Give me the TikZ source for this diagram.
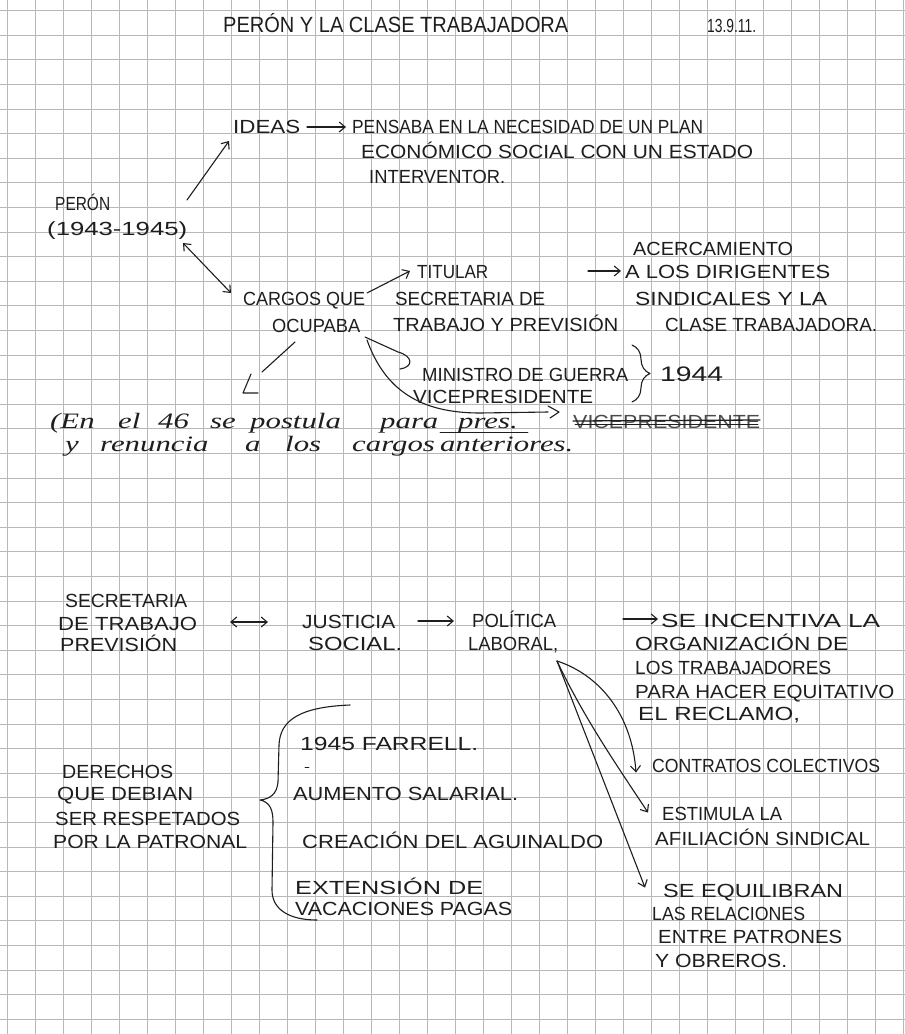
\documentclass[tikz,border=0pt]{standalone}
\usepackage{fontspec}
\setmainfont{Liberation Sans}
\newfontfamily\cursivefont{Liberation Serif}
\usetikzlibrary{arrows.meta,decorations.pathreplacing,calc}
\definecolor{ink}{HTML}{1E1E1E}
\definecolor{gridc}{HTML}{B8B8B8}
\newlength\hwlen
\newcommand\hw[2]{\settowidth\hwlen{#2}\scalebox{\fpeval{(#1)/\hwlen}}[1]{#2}}
\newcommand\cw[1]{\scalebox{1.4}[1]{#1}}
\newcommand\hwfont{\fontsize{19}{21}\selectfont}
\newcommand\curfont{\cursivefont\itshape\fontsize{22}{24}\selectfont}
\tikzset{
  gridline/.style={draw=gridc, line width=0.5pt},
  hw/.style={inner sep=0pt, anchor=base west, font=\hwfont, text=ink},
  cur/.style={inner sep=0pt, anchor=base west, font=\curfont, text=ink},
  pen/.style={draw=ink, line width=1.1pt, line cap=round, line join=round},
  hwarrow/.style={pen, -{Straight Barb[length=6pt,width=10pt]}},
  hwdarrow/.style={pen, {Straight Barb[length=6pt,width=10pt]}-{Straight Barb[length=6pt,width=10pt]}},
}
\begin{document}
\begin{tikzpicture}[x=1pt,y=-1pt]
\path[use as bounding box, fill=white] (0,0) rectangle (905,1034);
% grid paper
\foreach \k in {0,...,32} \draw[gridline] ({7+28*\k},0) -- ({7+28*\k},1034);
\foreach \k in {0,...,41} \draw[gridline] (0,{10.4+24.6*\k}) -- (905,{10.4+24.6*\k});

% title
\node[hw, font=\fontsize{22}{24}\selectfont] (title) at (223,32) {\hw{345}{PERÓN Y LA CLASE TRABAJADORA}};
\node[hw] (date) at (707,32) {\hw{49}{13.9.11.}};

% top block
\node[hw] (ideas) at (233,133) {\hw{67}{IDEAS}};
\node[hw] (ideas1) at (352,133) {\hw{351}{PENSABA EN LA NECESIDAD DE UN PLAN}};
\node[hw] (ideas2) at (361,158) {\hw{392}{ECONÓMICO SOCIAL CON UN ESTADO}};
\node[hw] (ideas3) at (369,183) {\hw{136}{INTERVENTOR.}};
\coordinate (ia) at (307,127);
\draw[hwarrow] (ia) -- ([xshift=-6pt]ideas1.west |- ia);

\node[hw] (peron) at (55,210) {\hw{55}{PERÓN}};
\node[hw] (years) at (47,235) {\hw{140}{(1943-1945)}};

\coordinate (pa) at (187,200);
\coordinate (pb) at (229,141);
\draw[hwarrow] (pa) -- (pb);

\node[hw] (cargos) at (243,305) {\hw{122}{CARGOS QUE}};
\node[hw] (ocupaba) at (272,332) {\hw{88}{OCUPABA}};
\coordinate (pc) at (183,243);
\coordinate (pd) at (231,293);
\draw[hwdarrow] (pc) -- (pd);

\node[hw] (titular) at (417,278) {\hw{71}{TITULAR}};
\node[hw] (sec1) at (395,305) {\hw{150}{SECRETARIA DE}};
\node[hw] (sec2) at (393,331) {\hw{225}{TRABAJO Y PREVISIÓN}};
\coordinate (ta) at (367,293);
\coordinate (tb) at (410,271);
\draw[hwarrow] (ta) -- (tb);

\node[hw] (acer) at (633,255) {\hw{160}{ACERCAMIENTO}};
\node[hw] (acer1) at (625,278) {\hw{205}{A LOS DIRIGENTES}};
\node[hw] (acer2) at (635,305) {\hw{192}{SINDICALES Y LA}};
\node[hw] (acer3) at (665,331) {\hw{212}{CLASE TRABAJADORA.}};
\coordinate (aa) at (588,271);
\draw[hwarrow] (aa) -- ([xshift=-4pt]acer1.west |- aa);

\node[hw] (min) at (422,381) {\hw{206}{MINISTRO DE GUERRA}};
\node[hw] (vice) at (413,403) {\hw{180}{VICEPRESIDENTE}};
\node[hw, font=\fontsize{21}{23}\selectfont] (y44) at (660,381) {\hw{63}{1944}};
\draw[pen, decorate, decoration={brace, amplitude=18pt}] (632,345) -- (632,402);

% connectors from OCUPABA
\draw[pen] (295,342) -- (262,372);
\draw[pen] (251,374) -- (243,393) -- (258,393);
\draw[pen] (365,337) -- (398,352) .. controls (413,356) and (414,367) .. (400,369);
\draw[pen] (367,340) .. controls (385,390) and (420,413) .. (480,413) -- (548,412);
\draw[pen] (548,406) -- (559,412) -- (550,418);

% cursive note, line 1
\node[cur] (n1a) at (50,428) {\cw{(En}};
\node[cur] (n1b) at (118,428) {\cw{el}};
\node[cur] (n1c) at (158,428) {\cw{46}};
\node[cur] (n1d) at (210,428) {\cw{se}};
\node[cur] (n1e) at (250,428) {\cw{postula}};
\node[cur] (n1f) at (380,428) {\cw{para}};
\node[cur] (n1g) at (458,428) {\cw{pres.}};
\draw[pen, line width=0.9pt] (440,432) -- (528,432);
\node[hw, text=ink!80] (struck) at (573,428) {\hw{187}{VICEPRESIDENTE}};
\draw[pen, line width=1.3pt] (573,421) -- (760,420);
\draw[pen, line width=0.9pt] (575,424) -- (758,424);
% cursive note, line 2
\node[cur] (n2a) at (65,451) {\cw{y}};
\node[cur] (n2b) at (100,451) {\cw{renuncia}};
\node[cur] (n2c) at (245,451) {\cw{a}};
\node[cur] (n2d) at (285,451) {\cw{los}};
\node[cur] (n2e) at (352,451) {\cw{cargos}};
\node[cur] (n2f) at (440,451) {\cw{anteriores.}};

% lower block
\node[hw] (s1) at (65,607) {\hw{122}{SECRETARIA}};
\node[hw] (s2) at (58,630) {\hw{139}{DE TRABAJO}};
\node[hw] (s3) at (60,651) {\hw{117}{PREVISIÓN}};
\node[hw] (j1) at (302,628) {\hw{93}{JUSTICIA}};
\node[hw] (j2) at (308,650) {\hw{94}{SOCIAL.}};
\node[hw] (p1) at (472,627) {\hw{84}{POLÍTICA}};
\node[hw] (p2) at (468,650) {\hw{90}{LABORAL,}};
\node[hw] (i1) at (661,627) {\hw{219}{SE INCENTIVA LA}};
\node[hw] (i2) at (635,650) {\hw{213}{ORGANIZACIÓN DE}};
\node[hw] (i3) at (635,674) {\hw{196}{LOS TRABAJADORES}};
\node[hw] (i4) at (635,698) {\hw{259}{PARA HACER EQUITATIVO}};
\node[hw] (i5) at (638,720) {\hw{162}{EL RECLAMO,}};
\coordinate (da) at (230,622);
\draw[hwdarrow] (da) -- ([xshift=-34pt]j1.west |- da);
\coordinate (ja) at (418,621);
\draw[hwarrow] (ja) -- ([xshift=-18pt]p1.west |- ja);
\coordinate (pa2) at (623,619);
\draw[hwarrow] (pa2) -- ([xshift=-3pt]i1.west |- pa2);

% rights
\node[hw] (d1) at (62,778) {\hw{111}{DERECHOS}};
\node[hw] (d2) at (57,800) {\hw{136}{QUE DEBIAN}};
\node[hw] (d3) at (55,825) {\hw{185}{SER RESPETADOS}};
\node[hw] (d4) at (53,848) {\hw{194}{POR LA PATRONAL}};
\draw[pen] (350,705) .. controls (300,707) and (280,720) .. (279,745) -- (278,782)
  .. controls (277,794) and (270,799) .. (260,800)
  .. controls (270,802) and (273,810) .. (273,822) -- (272,890)
  .. controls (272,910) and (290,920) .. (317,920);
\node[hw] (r1) at (300,750) {\hw{178}{1945 FARRELL.}};
\draw[pen, line width=0.8pt] (305,767) -- (309,767);
\node[hw] (r2) at (293,800) {\hw{225}{AUMENTO SALARIAL.}};
\node[hw] (r3) at (302,848) {\hw{301}{CREACIÓN DEL AGUINALDO}};
\node[hw] (r4) at (295,894) {\hw{188}{EXTENSIÓN DE}};
\node[hw] (r5) at (295,915) {\hw{217}{VACACIONES PAGAS}};

% consequences of politica laboral
\coordinate (lab0) at (557,661);
\node[hw] (c1) at (652,772) {\hw{228}{CONTRATOS COLECTIVOS}};
\node[hw] (c2) at (662,820) {\hw{120}{ESTIMULA LA}};
\node[hw] (c3) at (655,845) {\hw{215}{AFILIACIÓN SINDICAL}};
\node[hw] (c4) at (663,897) {\hw{180}{SE EQUILIBRAN}};
\node[hw] (c5) at (652,920) {\hw{153}{LAS RELACIONES}};
\node[hw] (c6) at (658,943) {\hw{184}{ENTRE PATRONES}};
\node[hw] (c7) at (655,967) {\hw{132}{Y OBREROS.}};
\draw[hwarrow] (lab0) .. controls (600,675) and (632,715) .. ([shift={(-16pt,-14pt)}]c1.north west);
\draw[hwarrow] (lab0) .. controls (585,720) and (620,770) .. ([shift={(-14pt,-6pt)}]c2.north west);
\draw[hwarrow] (lab0) -- ([shift={(-18pt,-4pt)}]c4.north west);
\end{tikzpicture}
\end{document}
